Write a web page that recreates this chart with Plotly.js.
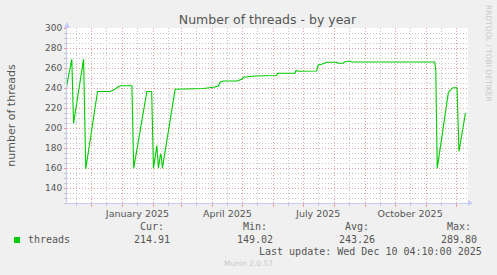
<!DOCTYPE html>
<html>
<head>
<meta charset="utf-8">
<script src="https://cdn.plot.ly/plotly-3.0.1.min.js"></script>
<style>html,body{margin:0;padding:0;background:#f0f0f0;}#chart{width:497px;height:275px;}</style>
</head>
<body>
<div id="chart"></div>
<script>
// Data (daily values of "threads")
const dates = [
  '2024-11-05 12:00','2024-11-11 05:00','2024-11-13 00:00','2024-11-23 00:00','2024-11-25 05:00',
  '2024-12-07 00:00','2024-12-19 17:00','2024-12-23 00:00','2024-12-28 00:00','2024-12-29 17:00',
  '2025-01-10 10:00','2025-01-12 05:00','2025-01-25 10:00','2025-01-30 05:00','2025-02-01 00:00',
  '2025-02-04 10:00','2025-02-06 00:00','2025-02-08 00:00','2025-02-08 17:00','2025-02-10 00:00',
  '2025-02-22 17:00','2025-03-23 00:00','2025-04-02 00:00','2025-04-07 00:00','2025-04-08 17:00',
  '2025-04-12 00:00','2025-04-25 10:00','2025-04-30 10:00','2025-05-02 00:00','2025-05-13 17:00',
  '2025-06-04 10:00','2025-06-05 00:00','2025-06-22 17:00','2025-06-23 17:00','2025-06-27 00:00',
  '2025-07-14 10:00','2025-07-16 00:00','2025-07-19 10:00','2025-07-24 10:00','2025-08-03 10:00',
  '2025-08-05 00:00','2025-08-10 05:00','2025-08-11 05:00','2025-08-16 17:00','2025-08-18 10:00',
  '2025-11-09 17:00','2025-11-10 17:00','2025-11-12 05:00','2025-11-23 05:00','2025-11-24 17:00',
  '2025-11-28 00:00','2025-12-02 00:00','2025-12-04 00:00','2025-12-10 10:00'
];
const threads = [
  239, 268.7, 204.7, 268.7, 159,
  236.5, 236.5, 238, 241.3, 242.3,
  242.3, 159.7, 236.5, 236.5, 159.7,
  182.5, 159.8, 174, 173, 159.8,
  238.7, 239.5, 240.7, 242, 245.7,
  247, 247, 248.7, 250.7, 252,
  252.5, 254.7, 254.7, 257.3, 256.7,
  257, 263, 263.7, 265.7, 265.7,
  264.7, 264.7, 266, 267, 266,
  266, 258, 159.7, 234.7, 237.3,
  240.3, 240.3, 176.5, 214.9
];

// Axis labels
const monthLabelDates = ['2024-11-16','2024-12-16','2025-01-16','2025-02-16','2025-03-16','2025-04-16',
  '2025-05-16','2025-06-16','2025-07-16','2025-08-16','2025-09-16','2025-10-16','2025-11-16'];
const monthLabelText = ['','','January 2025','','','April 2025','','','July 2025','','','October 2025',''];
const xRange = ['2024-11-06 10:00','2025-12-13 00:00'];
const yRange = [125, 300];

// Legend values
const seriesName = 'threads';
const statHeads = ['Cur:','Min:','Avg:','Max:'];
const statVals = ['214.91','149.02','243.26','289.80'];
const lastUpdate = 'Last update: Wed Dec 10 04:10:00 2025';

const green = '#00cc00';
const redGrid = '#ec9c9c';
const grayGrid = '#c6c6c6';
const axisBlue = '#c6cbf5';

const traces = [{
  type: 'scatter', mode: 'lines', x: dates, y: threads,
  line: {color: green, width: 1.1}, hoverinfo: 'skip', showlegend: false
}];

const mono = 'DejaVu Sans Mono, monospace';
const statX = [152, 255, 357, 459];
function px(x){return (x-67)/401;}
function py(y){return (203-y)/175;}
const annotations = [];
statHeads.forEach((h, i) => {
  annotations.push({xref:'paper', yref:'paper', x:px(statX[i]), y:py(226.7), xanchor:'center', yanchor:'middle',
    text:h, showarrow:false, font:{family:mono, size:10, color:'#555'}});
  annotations.push({xref:'paper', yref:'paper', x:px(statX[i]), y:py(239.5), xanchor:'center', yanchor:'middle',
    text:statVals[i], showarrow:false, font:{family:mono, size:10, color:'#555'}});
});
annotations.push({xref:'paper', yref:'paper', x:px(26), y:py(239.5), xanchor:'left', yanchor:'middle',
  text:seriesName, showarrow:false, font:{family:mono, size:10, color:'#555'}});
annotations.push({xref:'paper', yref:'paper', x:px(483.5), y:py(251.7), xanchor:'right', yanchor:'middle',
  text:lastUpdate, showarrow:false, font:{family:mono, size:10, color:'#555'}});
annotations.push({xref:'paper', yref:'paper', x:px(248), y:py(263.3), xanchor:'center', yanchor:'middle',
  text:'Munin 2.0.57', showarrow:false, font:{family:'DejaVu Sans', size:7.5, color:'#c8c8c8'}});
annotations.push({xref:'paper', yref:'paper', x:px(489), y:py(53), xanchor:'center', yanchor:'middle',
  text:'RRDTOOL / TOBI OETIKER', textangle:90, showarrow:false, font:{family:'DejaVu Sans', size:7.5, color:'#c8c8c8'}});

const shapes = [
  // legend colour box
  {type:'rect', xref:'paper', yref:'paper', x0:px(14), x1:px(20), y0:py(243), y1:py(237),
   fillcolor:green, line:{width:0}},
  // axis arrows
  {type:'path', xref:'paper', yref:'paper', xsizemode:'pixel', ysizemode:'pixel', xanchor:0, yanchor:1,
   path:'M -3 0 L 3 0 L 0 6 Z', fillcolor:axisBlue, line:{width:0}},
  {type:'path', xref:'paper', yref:'paper', xsizemode:'pixel', ysizemode:'pixel', xanchor:1, yanchor:0,
   path:'M 0 -3 L 0 3 L 5 0 Z', fillcolor:axisBlue, line:{width:0}}
];

const layout = {
  width: 497, height: 275,
  margin: {l:67, r:29, t:28, b:72, pad:0},
  paper_bgcolor: '#f0f0f0', plot_bgcolor: '#ffffff',
  font: {family:'DejaVu Sans', size:9, color:'#555'},
  title: {text:'Number of threads - by year', x:0.5, xref:'paper', xanchor:'center',
    y:1-19.5/275, yref:'container', yanchor:'middle',
    font:{family:'DejaVu Sans', size:12.5, color:'#555'}},
  showlegend: false,
  xaxis: {
    type:'date', range:xRange, fixedrange:true,
    tickmode:'array', tickvals:monthLabelDates, ticktext:monthLabelText,
    showgrid:true, gridcolor:grayGrid, griddash:'1px,2px', gridwidth:1,
    ticks:'outside', ticklen:2, tickcolor:grayGrid,
    tickfont:{family:'DejaVu Sans', size:9.5, color:'#555'},
    showline:true, linecolor:axisBlue, linewidth:1, zeroline:false,
    minor:{tickmode:'linear', tick0:'2024-11-01', dtick:'M1', showgrid:true, gridcolor:redGrid,
      griddash:'1px,2px', gridwidth:1, ticks:'outside', ticklen:3, tickcolor:redGrid}
  },
  yaxis: {
    range:yRange, fixedrange:true, tick0:0, dtick:20, tickmode:'linear',
    showgrid:true, gridcolor:redGrid, griddash:'1px,2px', gridwidth:1,
    ticks:'outside', ticklen:2, tickcolor:redGrid,
    tickfont:{family:'DejaVu Sans', size:9, color:'#555'},
    showline:true, linecolor:axisBlue, linewidth:1, zeroline:false,
    title:{text:'number of threads', standoff:27, font:{family:'DejaVu Sans', size:11, color:'#555'}},
    minor:{dtick:5, tick0:0, showgrid:true, gridcolor:grayGrid, griddash:'1px,2px', gridwidth:1,
      ticks:'outside', ticklen:2, tickcolor:grayGrid}
  },
  annotations: annotations,
  shapes: shapes
};

Plotly.newPlot('chart', traces, layout, {staticPlot:true, displayModeBar:false});
</script>
</body>
</html>
